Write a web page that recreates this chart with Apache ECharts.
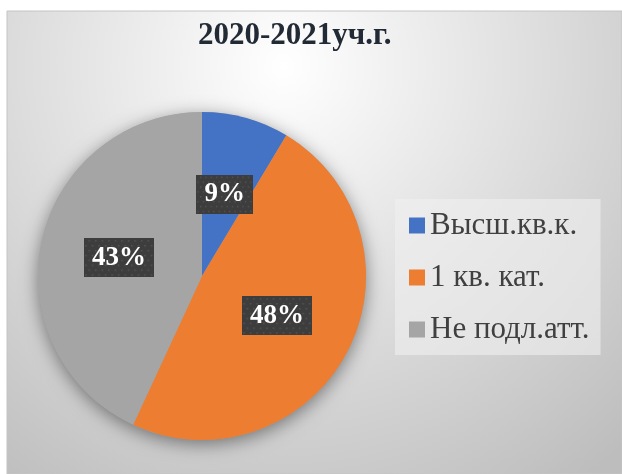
<!DOCTYPE html>
<html><head><meta charset="utf-8">
<script src="https://cdn.jsdelivr.net/npm/echarts@6/dist/echarts.min.js"></script>
<style>html,body{margin:0;padding:0;background:#fff}#c{width:622px;height:474px}</style>
</head><body><div id="c"></div>
<script>
const chartTitle = '2020-2021уч.г.';
const categories = ['Высш.кв.к.', '1 кв. кат.', 'Не подл.атт.'];
const values = [8.6, 48.3, 43.1];
const colors = ['#4472C4', '#ED7D31', '#A5A5A5'];

const serif = '"Liberation Serif","Times New Roman",serif';

// dotted dark pattern for data label boxes
const pc = document.createElement('canvas'); pc.width = 64; pc.height = 40;
const g = pc.getContext('2d');
g.fillStyle = '#3d3d3d'; g.fillRect(0, 0, 64, 40);
g.fillStyle = '#555555';
for (let y = 2, row = 0; y < 40; y += 5, row++) {
  for (let x = (row % 2 ? 1 : 4); x < 64; x += 6) g.fillRect(x, y, 1.5, 1.5);
}

const chart = echarts.init(document.getElementById('c'), null, {renderer: 'canvas'});
const center = [202, 276];
const radius = 164;

chart.setOption({
  animation: false,
  color: colors,
  graphic: [{
    type: 'rect', z: -10, silent: true,
    shape: {x: 7, y: 11, width: 615, height: 463},
    style: {
      fill: {type: 'radial', x: 0.45, y: 0.12, r: 1.1,
        colorStops: [{offset: 0, color: '#ffffff'}, {offset: 0.3, color: '#ebebeb'}, {offset: 1, color: '#bdbdbd'}]},
      stroke: '#c4c4c4', lineWidth: 1
    }
  }],
  title: {
    text: chartTitle, left: 193, top: 15,
    textStyle: {fontFamily: serif, fontSize: 31, fontWeight: 'bold', color: '#222a35'}
  },
  legend: {
    orient: 'vertical', left: 395, top: 199, data: categories,
    itemWidth: 16, itemHeight: 16, itemGap: 21, icon: 'rect',
    padding: [11, 11, 10, 14], backgroundColor: 'rgba(240,240,240,0.6)',
    selectedMode: false,
    textStyle: {fontFamily: serif, fontSize: 31, color: '#404040', lineHeight: 31}
  },
  series: [
    {
      type: 'pie', silent: true, center: center, radius: radius, z: 1,
      label: {show: false}, labelLine: {show: false},
      itemStyle: {color: '#a5a5a5', shadowBlur: 18, shadowColor: 'rgba(0,0,0,0.45)', shadowOffsetY: 4},
      data: [{value: 1, name: '_bg'}]
    },
    {
      type: 'pie', center: center, radius: radius, startAngle: 90, clockwise: true, z: 2,
      emphasis: {disabled: true},
      itemStyle: {borderWidth: 0},
      label: {
        show: true, position: 'inside',
        formatter: p => Math.round(p.percent) + '%',
        fontFamily: serif, fontSize: 27, fontWeight: 'bold', color: '#ffffff', lineHeight: 27,
        backgroundColor: {image: pc}, padding: [7, 8, 5, 8],
        shadowBlur: 6, shadowColor: 'rgba(0,0,0,0.6)', shadowOffsetX: 3, shadowOffsetY: 3
      },
      labelLine: {show: false},
      data: categories.map((c, i) => ({name: c, value: values[i]}))
    }
  ]
});
</script></body></html>
